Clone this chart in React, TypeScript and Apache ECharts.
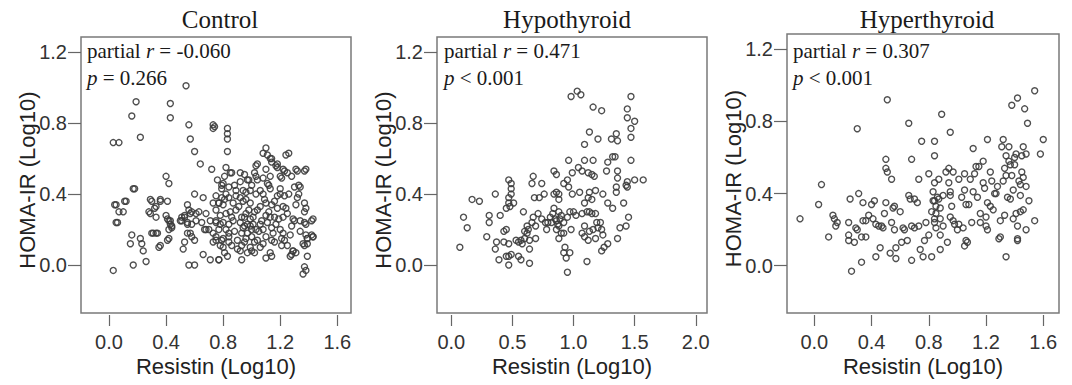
import React, { useEffect, useRef } from "react";
import * as echarts from "echarts";

const panelTitles = ["Control", "Hypothyroid", "Hyperthyroid"];
const partialR = ["-0.060", "0.471", "0.307"];
const pLabels = ["= 0.266", "< 0.001", "< 0.001"];
const yTicks = [0, 0.4, 0.8, 1.2];
const xTicks1 = [0, 0.4, 0.8, 1.2, 1.6];
const xTicks2 = [0, 0.5, 1.0, 1.5, 2.0];
const xTicks3 = [0, 0.4, 0.8, 1.2, 1.6];
const xName = "Resistin (Log10)";
const yName = "HOMA-IR (Log10)";

// [Resistin (Log10), HOMA-IR (Log10)]
const controlPoints = [
  [0.03, -0.03], [0.03, 0.69], [0.07, 0.69], [0.16, 0.84], [0.19, 0.92], [0.22, 0.72], [0.17, 0.43],
  [0.05, 0.34], [0.11, 0.36], [0.12, 0.36], [0.07, 0.30], [0.10, 0.30], [0.05, 0.24], [0.06, 0.24],
  [0.16, 0.17], [0.15, 0.12], [0.22, 0.15], [0.23, 0.12], [0.24, 0.08], [0.17, 0.00], [0.26, 0.02],
  [0.28, 0.30], [0.29, 0.29], [0.30, 0.36], [0.36, 0.36], [0.32, 0.32], [0.33, 0.27], [0.30, 0.18],
  [0.33, 0.18], [0.35, 0.10], [0.40, 0.50], [0.42, 0.46], [0.43, 0.91], [0.43, 0.83], [0.54, 1.01],
  [0.56, 0.79], [0.57, 0.71], [0.60, 0.64], [0.64, 0.57], [0.60, 0.40], [0.40, 0.28], [0.43, 0.25],
  [0.44, 0.22], [0.41, 0.26], [0.42, 0.15], [0.41, 0.14], [0.44, 0.21], [0.51, 0.27], [0.53, 0.28],
  [0.56, 0.31], [0.57, 0.29], [0.50, 0.25], [0.55, 0.24], [0.57, 0.18], [0.58, 0.16], [0.52, 0.09],
  [0.56, 0.00], [0.60, 0.00], [0.61, 0.29], [0.65, 0.24], [0.66, 0.38], [0.68, 0.20], [0.66, 0.06],
  [0.71, 0.03], [0.77, 0.03], [0.72, 0.54], [0.73, 0.79], [0.74, 0.78], [0.73, 0.77],
  [0.29, 0.37], [0.36, 0.37], [0.41, 0.36], [0.33, 0.33], [0.42, 0.25], [0.43, 0.23], [0.42, 0.20],
  [0.31, 0.18], [0.34, 0.18], [0.36, 0.11], [0.55, 0.34], [0.58, 0.30], [0.63, 0.30], [0.53, 0.27],
  [0.51, 0.25], [0.55, 0.23], [0.58, 0.23], [0.61, 0.25], [0.55, 0.18], [0.53, 0.13], [0.60, 0.14],
  [0.04, 0.34], [0.18, 0.43],
  [0.70, 0.20], [0.73, 0.18], [0.75, 0.24], [0.78, 0.28], [0.75, 0.14], [0.79, 0.14], [0.78, 0.11],
  [0.73, 0.13], [0.84, 0.13], [0.77, 0.35], [0.79, 0.38], [0.73, 0.35], [0.68, 0.29], [0.71, 0.25],
  [0.67, 0.20], [0.79, 0.43], [0.80, 0.46],
  [0.83, 0.77], [0.83, 0.74], [0.83, 0.71], [0.83, 0.64], [1.10, 0.66], [1.08, 0.63], [1.24, 0.62],
  [1.26, 0.63], [1.13, 0.60], [1.14, 0.58], [1.04, 0.57], [1.17, 0.56], [1.18, 0.55], [1.31, 0.54],
  [1.38, 0.54], [0.82, 0.55], [1.10, 0.54], [1.22, 0.54], [1.23, 0.53],
  [0.86, 0.52], [0.81, 0.50], [0.95, 0.51], [1.02, 0.52], [1.03, 0.50], [1.13, 0.50], [1.20, 0.50],
  [1.21, 0.49], [1.25, 0.52], [1.28, 0.50], [0.92, 0.47], [0.97, 0.48], [1.04, 0.48], [1.08, 0.49],
  [1.11, 0.46], [1.33, 0.45], [1.34, 0.44], [0.76, 0.48],
  [0.79, 0.45], [0.84, 0.44], [0.89, 0.42], [0.94, 0.42], [0.99, 0.42], [1.06, 0.42], [1.13, 0.43],
  [1.20, 0.43], [1.18, 0.39], [1.23, 0.39], [1.20, 0.40], [1.32, 0.38], [0.75, 0.39], [0.82, 0.40],
  [0.84, 0.38], [0.89, 0.39], [0.92, 0.38], [0.96, 0.37], [1.03, 0.40], [1.08, 0.40],
  [0.80, 0.34], [0.87, 0.35], [0.94, 0.36], [0.99, 0.35], [1.06, 0.33], [1.10, 0.35], [1.14, 0.34],
  [1.22, 0.33], [1.24, 0.32], [1.31, 0.34], [1.38, 0.32], [0.77, 0.35],
  [0.75, 0.31], [0.82, 0.29], [0.89, 0.31], [0.96, 0.29], [1.02, 0.30], [1.10, 0.28], [1.13, 0.27],
  [1.16, 0.27], [1.22, 0.27], [1.29, 0.26], [1.30, 0.25], [1.43, 0.26], [0.75, 0.25], [0.80, 0.24],
  [0.84, 0.23], [0.92, 0.24], [0.97, 0.23], [1.01, 0.23], [1.06, 0.23], [1.11, 0.24], [1.17, 0.23],
  [1.38, 0.23], [1.28, 0.22], [0.99, 0.26], [0.95, 0.27], [0.86, 0.27],
  [0.77, 0.20], [0.82, 0.20], [0.88, 0.19], [0.94, 0.21], [0.99, 0.22], [1.03, 0.20], [1.08, 0.20],
  [1.14, 0.21], [1.20, 0.20], [1.22, 0.18], [0.97, 0.18], [1.00, 0.20], [0.93, 0.18],
  [1.38, 0.17], [1.42, 0.17], [1.43, 0.16], [1.39, 0.15], [0.75, 0.16], [0.80, 0.15], [0.84, 0.16],
  [0.90, 0.14], [0.96, 0.15], [1.00, 0.16], [1.04, 0.14], [1.10, 0.16], [1.14, 0.14], [1.21, 0.15],
  [1.23, 0.14], [0.95, 0.13],
  [1.36, 0.12], [1.39, 0.12], [0.80, 0.10], [0.86, 0.11], [0.93, 0.11], [0.99, 0.10], [1.06, 0.10],
  [1.16, 0.13], [1.21, 0.11], [0.92, 0.08], [0.97, 0.07], [1.02, 0.07], [1.13, 0.07], [1.29, 0.08],
  [1.31, 0.07], [1.00, 0.08],
  [0.77, 0.03], [0.83, 0.05], [0.93, 0.03], [1.10, 0.04], [1.14, 0.05], [1.28, 0.06], [1.39, 0.05],
  [1.37, -0.01], [1.38, -0.03], [1.36, -0.05],
  [1.32, 0.53], [1.37, 0.53], [1.33, 0.40], [1.37, 0.35], [1.37, 0.30], [1.42, 0.25], [1.37, 0.24],
  [1.39, 0.15], [1.43, 0.16], [1.37, 0.11], [1.29, 0.08], [1.27, 0.05], [0.85, 0.52], [0.92, 0.52],
  [0.98, 0.48], [1.03, 0.56], [1.11, 0.62], [1.14, 0.60], [1.18, 0.57],
  [0.85, 0.30], [0.87, 0.25], [0.91, 0.33], [0.93, 0.27], [0.95, 0.22], [0.98, 0.31], [1.01, 0.27],
  [1.04, 0.31], [1.05, 0.19], [1.07, 0.25], [1.09, 0.37], [1.12, 0.30], [1.15, 0.18], [1.18, 0.32],
  [1.19, 0.26], [1.25, 0.29], [1.26, 0.40], [1.27, 0.17], [1.30, 0.44], [1.34, 0.25], [0.81, 0.37],
  [0.84, 0.18], [0.88, 0.45], [0.90, 0.09], [0.96, 0.41], [1.00, 0.45], [1.02, 0.13], [1.08, 0.12],
  [1.12, 0.45], [1.16, 0.36], [0.78, 0.23], [0.81, 0.07], [1.25, 0.11], [1.34, 0.19],
];

const hypoPoints = [
  [0.07, 0.10], [0.10, 0.27], [0.13, 0.21], [0.17, 0.37], [0.23, 0.36], [0.29, 0.16], [0.31, 0.28],
  [0.31, 0.24], [0.36, 0.40], [0.40, 0.28], [0.37, 0.13], [0.36, 0.09], [0.39, 0.03], [0.43, 0.13],
  [0.43, 0.19], [0.45, 0.20], [0.47, 0.12], [0.45, 0.05], [0.47, 0.05], [0.47, 0.00], [0.49, 0.06],
  [0.47, 0.48], [0.49, 0.46], [0.49, 0.43], [0.49, 0.40], [0.47, 0.38], [0.47, 0.35], [0.48, 0.33],
  [0.51, 0.35], [0.45, 0.32], [0.53, 0.14], [0.55, 0.13], [0.58, 0.12], [0.57, 0.14], [0.60, 0.15],
  [0.62, 0.18], [0.63, 0.20], [0.59, 0.30], [0.55, 0.05], [0.57, 0.03], [0.64, 0.01], [0.64, 0.09],
  [0.64, 0.14], [0.66, 0.24], [0.69, 0.15], [0.67, 0.27], [0.69, 0.22], [0.71, 0.29], [0.67, 0.50],
  [0.66, 0.46], [0.68, 0.38], [0.72, 0.38], [0.74, 0.46], [0.76, 0.40], [0.74, 0.26], [0.77, 0.24],
  [0.79, 0.24], [0.81, 0.27], [0.83, 0.29], [0.84, 0.32], [0.84, 0.53], [0.86, 0.51], [0.84, 0.40],
  [0.86, 0.41], [0.88, 0.40], [0.88, 0.37], [0.86, 0.25], [0.88, 0.22], [0.86, 0.20], [0.88, 0.15],
  [0.85, 0.26], [0.90, 0.28], [0.92, 0.24], [0.92, 0.07], [0.93, 0.10], [0.94, 0.04], [0.97, 0.07],
  [0.95, -0.04], [0.92, 0.46], [0.95, 0.48], [0.96, 0.44], [0.96, 0.59], [0.99, 0.52], [0.99, 0.40],
  [0.97, 0.30], [1.00, 0.30], [0.98, 0.20], [1.03, 0.98], [1.06, 0.96], [0.98, 0.95], [1.04, 0.55],
  [1.07, 0.53], [1.09, 0.59], [1.09, 0.68], [1.13, 0.75], [1.16, 0.89], [1.23, 0.87], [1.20, 0.71],
  [1.05, 0.41], [1.07, 0.29], [1.09, 0.35], [1.12, 0.38], [1.13, 0.41], [1.12, 0.52], [1.15, 0.51],
  [1.17, 0.50], [1.16, 0.59], [1.18, 0.42], [1.15, 0.37], [1.11, 0.30], [1.13, 0.30], [1.15, 0.29],
  [1.18, 0.29], [1.09, 0.22], [1.13, 0.19], [1.16, 0.20], [1.19, 0.24], [1.22, 0.24], [1.20, 0.21],
  [1.23, 0.20], [1.07, 0.18], [1.09, 0.16], [1.12, 0.14], [1.18, 0.15], [1.24, 0.17], [1.23, 0.08],
  [1.11, 0.02], [1.24, 0.40], [1.27, 0.53], [1.28, 0.58], [1.32, 0.61], [1.34, 0.61], [1.31, 0.71],
  [1.35, 0.74], [1.36, 0.70], [1.36, 0.53], [1.36, 0.49], [1.35, 0.44], [1.35, 0.41], [1.32, 0.32],
  [1.28, 0.12], [1.36, 0.15], [1.38, 0.21], [1.41, 0.35], [1.43, 0.45], [1.44, 0.44], [1.43, 0.22],
  [1.45, 0.27], [1.44, 0.88], [1.44, 0.83], [1.47, 0.95], [1.50, 0.81], [1.47, 0.77], [1.47, 0.72],
  [1.47, 0.59], [1.50, 0.48], [1.57, 0.48], [1.44, 0.47], [1.28, 0.35], [1.25, 0.10],
  [0.87, 0.23], [0.89, 0.26], [0.90, 0.18], [0.92, 0.18], [0.88, 0.30], [0.95, 0.27], [1.02, 0.28],
  [0.60, 0.19], [0.62, 0.22], [0.78, 0.20], [0.82, 0.24],
];

const hyperPoints = [
  [-0.10, 0.26], [0.03, 0.34], [0.05, 0.45], [0.10, 0.16], [0.13, 0.28], [0.14, 0.26], [0.15, 0.22],
  [0.16, 0.24], [0.24, 0.24], [0.24, 0.17], [0.24, 0.14], [0.28, 0.13], [0.26, -0.03], [0.25, 0.37],
  [0.31, 0.40], [0.30, 0.76], [0.29, 0.21], [0.30, 0.20], [0.33, 0.16], [0.36, 0.16], [0.33, 0.02],
  [0.34, 0.35], [0.34, 0.25], [0.36, 0.25], [0.38, 0.28], [0.41, 0.26], [0.42, 0.36], [0.43, 0.05],
  [0.43, 0.23], [0.45, 0.22], [0.46, 0.10], [0.48, 0.21], [0.49, 0.29], [0.50, 0.35], [0.51, 0.92],
  [0.50, 0.59], [0.50, 0.54], [0.51, 0.52], [0.54, 0.48], [0.53, 0.07], [0.55, 0.32], [0.56, 0.33],
  [0.54, 0.24], [0.56, 0.20], [0.57, 0.10], [0.57, 0.04], [0.60, 0.30], [0.61, 0.13], [0.63, 0.20],
  [0.65, 0.14], [0.66, 0.79], [0.66, 0.39], [0.67, 0.37], [0.68, 0.59], [0.68, 0.22], [0.70, 0.37],
  [0.68, 0.03], [0.70, 0.21], [0.72, 0.35], [0.73, 0.48], [0.73, 0.22], [0.74, 0.09], [0.75, 0.69],
  [0.76, 0.05], [0.77, 0.14], [0.80, 0.17], [0.80, 0.51], [0.82, 0.05], [0.83, 0.41], [0.83, 0.36],
  [0.84, 0.36], [0.84, 0.46], [0.84, 0.69], [0.84, 0.61], [0.84, 0.26], [0.84, 0.24], [0.85, 0.33],
  [0.85, 0.29], [0.85, 0.21], [0.87, 0.48], [0.87, 0.37], [0.88, 0.32], [0.88, 0.26], [0.88, 0.17],
  [0.89, 0.84], [0.88, 0.09], [0.90, 0.39], [0.92, 0.52], [0.93, 0.13], [0.94, 0.46], [0.94, 0.54],
  [0.95, 0.74], [0.95, 0.41], [0.95, 0.39], [0.95, 0.27], [0.97, 0.52], [0.97, 0.25], [0.98, 0.23],
  [1.01, 0.23], [1.01, 0.48], [1.04, 0.21], [1.05, 0.51], [1.05, 0.11], [1.05, 0.42], [1.06, 0.34],
  [1.06, 0.14], [1.07, 0.13], [1.08, 0.34], [1.09, 0.48], [1.10, 0.24], [1.11, 0.65], [1.11, 0.41],
  [1.12, 0.51], [1.13, 0.55], [1.15, 0.55], [1.16, 0.29], [1.16, 0.24], [1.18, 0.58], [1.19, 0.43],
  [1.20, 0.27], [1.20, 0.22], [1.21, 0.20], [1.21, 0.70], [1.21, 0.35], [1.23, 0.33], [1.23, 0.52],
  [1.24, 0.47], [1.25, 0.31], [1.26, 0.40], [1.27, 0.40], [1.29, 0.15], [1.30, 0.25], [1.30, 0.16],
  [1.31, 0.66], [1.32, 0.47], [1.32, 0.70], [1.33, 0.28], [1.34, 0.05], [1.33, 0.54], [1.34, 0.61],
  [1.34, 0.50], [1.35, 0.38], [1.36, 0.66], [1.37, 0.37], [1.37, 0.56], [1.38, 0.50], [1.38, 0.89],
  [1.39, 0.42], [1.40, 0.56], [1.41, 0.62], [1.41, 0.29], [1.42, 0.22], [1.42, 0.15], [1.42, 0.93],
  [1.43, 0.47], [1.44, 0.39], [1.45, 0.61], [1.46, 0.66], [1.46, 0.49], [1.47, 0.87], [1.48, 0.62],
  [1.48, 0.44], [1.48, 0.20], [1.49, 0.79], [1.50, 0.36], [1.54, 0.25], [1.54, 0.97], [1.58, 0.62],
  [1.60, 0.70], [1.46, 0.31], [1.44, 0.45],
  [0.86, 0.38], [0.90, 0.22], [0.96, 0.33], [1.00, 0.20], [1.03, 0.38], [1.14, 0.38], [1.18, 0.46],
  [1.28, 0.44], [1.36, 0.58], [1.40, 0.60], [1.42, 0.14], [1.44, 0.30], [1.45, 0.52], [1.39, 0.26],
  [0.78, 0.24], [0.82, 0.30], [0.62, 0.21], [0.47, 0.22], [0.40, 0.34],
];

const SANS = "'Liberation Sans', Arial, sans-serif";
const SERIF = "'Liberation Serif', 'Times New Roman', serif";

const grids = [
  { left: 81, top: 37, width: 270, height: 276 },
  { left: 437, top: 37, width: 270, height: 276 },
  { left: 787, top: 34, width: 272, height: 279 },
];
const xRanges = [
  [-0.196, 1.696],
  [-0.117, 2.092],
  [-0.191, 1.71],
];
const yRanges = [
  [-0.27, 1.285],
  [-0.27, 1.285],
  [-0.262, 1.285],
];
const xTickSets = [xTicks1, xTicks2, xTicks3];
const allPoints = [controlPoints, hypoPoints, hyperPoints];

export default function App() {
  const ref = useRef<HTMLDivElement>(null);
  useEffect(() => {
    if (!ref.current) return;
    const chart = echarts.init(ref.current, null, { renderer: "svg" });
    const option: any = {
      animation: false,
      backgroundColor: "#ffffff",
      grid: grids.map((g) => ({
        ...g,
        show: true,
        borderColor: "#7a7a7a",
        borderWidth: 1.5,
        backgroundColor: "transparent",
        containLabel: false,
      })),
      xAxis: grids.map((_, i) => ({
        type: "value",
        gridIndex: i,
        position: "bottom",
        min: xRanges[i][0],
        max: xRanges[i][1],
        offset: 2,
        axisLine: { show: false, onZero: false },
        splitLine: { show: false },
        axisTick: {
          show: true,
          inside: false,
          length: 11,
          customValues: xTickSets[i],
          lineStyle: { color: "#666", width: 1.2 },
        },
        axisLabel: {
          show: true,
          customValues: xTickSets[i],
          formatter: (v: number) => v.toFixed(1),
          fontFamily: SANS,
          fontSize: 20,
          color: "#333",
          margin: 17,
        },
        name: xName,
        nameLocation: "middle",
        nameGap: 40,
        nameMoveOverlap: false,
        nameTextStyle: { fontFamily: SANS, fontSize: 22, color: "#222" },
      })),
      yAxis: grids.map((_, i) => ({
        type: "value",
        gridIndex: i,
        position: "left",
        min: yRanges[i][0],
        max: yRanges[i][1],
        axisLine: { show: false, onZero: false },
        splitLine: { show: false },
        axisTick: {
          show: true,
          inside: false,
          length: 13,
          customValues: yTicks,
          lineStyle: { color: "#666", width: 1.2 },
        },
        axisLabel: {
          show: true,
          customValues: yTicks,
          formatter: (v: number) => v.toFixed(1),
          fontFamily: SANS,
          fontSize: 20,
          color: "#333",
          margin: 14,
        },
        name: yName,
        nameLocation: "middle",
        nameGap: 43,
        nameMoveOverlap: false,
        nameTextStyle: { fontFamily: SANS, fontSize: 22, color: "#222", padding: [0, 10, 0, 0] },
      })),
      series: allPoints.map((pts, i) => ({
        type: "scatter",
        xAxisIndex: i,
        yAxisIndex: i,
        data: pts,
        symbol: "circle",
        symbolSize: 6,
        itemStyle: {
          color: "rgba(255,255,255,0)",
          borderColor: "#3c3c3c",
          borderWidth: 1.4,
          opacity: 0.9,
        },
        emphasis: { disabled: true },
      })),
      graphic: [
        ...panelTitles.map((t, i) => ({
          type: "text",
          x: [220, 567, 927][i],
          y: 19,
          style: {
            text: t,
            fontFamily: SERIF,
            fontSize: 25,
            fill: "#1a1a1a",
            align: "center",
            verticalAlign: "middle",
          },
        })),
        ...partialR.map((r, i) => ({
          type: "text",
          x: [87, 444, 793][i],
          y: 51,
          style: {
            text: `{a|partial }{i|r}{a| = ${r}}`,
            fontFamily: SERIF,
            fontSize: 21,
            fill: "#1a1a1a",
            align: "left",
            verticalAlign: "middle",
            rich: {
              a: { fontFamily: SERIF, fontSize: 21, fill: "#1a1a1a" },
              i: { fontFamily: SERIF, fontSize: 21, fontStyle: "italic", fill: "#1a1a1a" },
            },
          },
        })),
        ...pLabels.map((p, i) => ({
          type: "text",
          x: [87, 444, 793][i],
          y: 78,
          style: {
            text: `{i|p}{a| ${p}}`,
            fontFamily: SERIF,
            fontSize: 21,
            fill: "#1a1a1a",
            align: "left",
            verticalAlign: "middle",
            rich: {
              a: { fontFamily: SERIF, fontSize: 21, fill: "#1a1a1a" },
              i: { fontFamily: SERIF, fontSize: 21, fontStyle: "italic", fill: "#1a1a1a" },
            },
          },
        })),
      ],
    };
    chart.setOption(option);
    return () => chart.dispose();
  }, []);
  return (
    <div
      ref={ref}
      style={{ position: "fixed", left: 0, top: 0, width: 1072, height: 385, background: "#fff" }}
    />
  );
}
